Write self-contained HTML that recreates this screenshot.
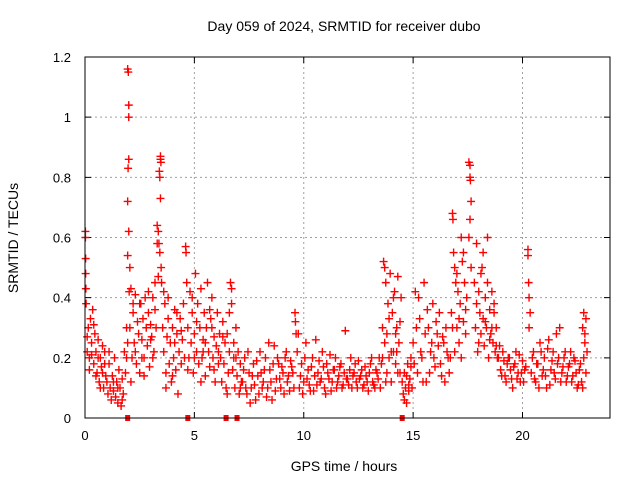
<!DOCTYPE html>
<html><head><meta charset="utf-8"><style>
body{margin:0;background:#fff;}
svg{display:block;font-family:"Liberation Sans",sans-serif;}
</style></head><body>
<svg id="chart" width="640" height="480" viewBox="0 0 640 480">
<rect width="640" height="480" fill="#fff"/>
<text x="344" y="31" text-anchor="middle" font-size="14">Day 059 of 2024, SRMTID for receiver dubo</text>
<text transform="translate(18,238) rotate(-90)" text-anchor="middle" font-size="14">SRMTID / TECUs</text>
<text x="344" y="471" text-anchor="middle" font-size="14">GPS time / hours</text>
<g id="grid"></g><g id="ticks"></g><g id="pts"></g>
<rect x="85" y="57" width="525" height="361" fill="none" stroke="#000" stroke-width="1"/>
</svg>
<script>
const xTicks=[0,5,10,15,20];
const yTicks=[0,0.2,0.4,0.6,0.8,1,1.2];
const yTickLabels=["0","0.2","0.4","0.6","0.8","1","1.2"];
const T=[0.02,0.02,0.03,0.03,0.04,0.05,0.1,0.15,0.2,0.25,0.3,0.35,0.4,0.45,0.5,0.55,0.6,0.65,0.7,0.75,0.8,0.85,0.9,0.95,0.1,0.2,0.3,0.4,0.5,0.6,0.7,0.8,0.9,
1.0,1.05,1.1,1.15,1.2,1.25,1.3,1.35,1.4,1.45,1.5,1.55,1.6,1.65,1.7,1.75,1.8,1.85,1.9,1.95,1.1,1.3,1.5,1.7,1.9,
1.95,1.98,2.0,2.0,2.0,1.97,1.95,2.0,1.95,2.05,2.02,
2.05,2.1,2.15,2.2,2.25,2.3,2.35,2.4,2.45,2.5,2.55,2.6,2.65,2.7,2.75,2.8,2.85,2.9,2.95,3.0,3.05,3.1,3.15,3.2,3.25,2.1,2.3,2.5,2.7,2.9,3.1,3.2,2.2,2.6,3.0,
3.45,3.45,3.47,3.4,3.42,3.45,3.3,3.35,3.38,3.42,3.48,3.5,3.3,3.35,
3.55,3.6,3.65,3.7,3.75,3.8,3.85,3.9,3.95,4.0,4.05,4.1,4.15,4.2,4.25,4.3,4.35,4.4,4.45,4.5,4.55,3.6,3.8,4.0,4.2,4.4,3.7,4.1,
4.6,4.62,4.65,4.7,4.75,4.8,4.85,4.9,4.95,5.0,5.05,5.1,5.15,5.2,5.25,5.3,5.35,5.4,5.45,5.5,5.55,5.6,5.65,5.7,5.75,5.8,5.85,5.9,5.95,6.0,6.05,6.1,6.15,4.7,4.9,5.1,5.3,5.5,5.7,5.9,6.1,5.0,5.4,5.8,
6.2,6.25,6.3,6.35,6.4,6.45,6.5,6.55,6.6,6.65,6.7,6.75,6.8,6.85,6.9,6.95,7.0,7.05,7.1,7.15,6.3,6.5,6.7,6.9,7.1,6.6,6.8,
7.2,7.3,7.4,7.5,7.6,7.7,7.8,7.9,8.0,8.1,8.2,8.3,8.4,8.5,8.6,8.7,8.8,8.9,9.0,9.1,9.2,9.3,9.4,7.25,7.35,7.45,7.55,7.65,7.75,7.85,7.95,8.05,8.15,8.25,8.35,8.45,8.55,8.65,8.75,8.85,8.95,9.05,9.15,9.25,9.35,9.45,9.6,9.62,9.65,
9.5,9.7,9.8,9.9,10.0,10.1,10.2,10.3,10.4,10.5,10.6,10.7,10.8,10.9,11.0,11.1,11.2,11.3,11.4,11.5,11.6,11.7,11.8,11.9,12.0,12.1,12.2,12.3,12.4,12.5,12.6,12.7,12.8,12.9,13.0,13.1,13.2,13.3,13.4,
9.55,9.75,9.85,9.95,10.05,10.15,10.25,10.35,10.45,10.55,10.65,10.75,10.85,10.95,11.05,11.15,11.25,11.35,11.45,11.55,11.65,11.75,11.85,11.95,12.05,12.15,12.25,12.35,12.45,12.55,12.65,12.75,12.85,12.95,13.05,13.15,13.25,13.35,13.45,
13.5,13.55,13.6,13.65,13.7,13.75,13.8,13.85,13.9,13.95,14.0,14.05,14.1,14.15,14.2,14.25,14.3,14.35,14.4,14.45,13.6,13.7,13.8,13.9,14.0,14.1,14.2,14.3,14.4,13.75,14.25,
14.5,14.55,14.6,14.65,14.7,14.75,14.8,14.85,14.9,14.95,14.6,14.7,14.8,14.9,
15.0,15.1,15.2,15.3,15.4,15.5,15.6,15.7,15.8,15.9,16.0,16.1,16.2,16.3,16.4,16.5,16.6,15.05,15.15,15.25,15.35,15.45,15.55,15.65,15.75,15.85,15.95,16.05,16.15,16.25,16.35,16.45,16.55,16.65,
16.7,16.75,16.8,16.82,16.85,16.9,16.95,17.0,17.05,17.1,17.15,17.2,17.25,17.3,17.35,17.4,17.45,16.8,16.9,17.0,17.1,17.2,17.3,17.4,
17.55,17.6,17.6,17.62,17.65,17.6,17.55,17.65,
17.8,17.85,17.9,17.95,18.0,18.05,18.1,18.15,18.2,18.25,18.3,18.35,18.4,18.45,18.5,18.55,18.6,18.65,18.7,18.75,18.8,18.85,17.9,18.0,18.1,18.2,18.3,18.4,18.5,18.6,18.7,18.8,
18.9,19.0,19.1,19.2,19.3,19.4,19.5,19.6,19.7,19.8,19.9,20.0,20.1,18.95,19.05,19.15,19.25,19.35,19.45,19.55,19.65,19.75,19.85,19.95,20.05,20.15,
20.25,20.25,20.28,20.3,20.35,20.3,
20.4,20.5,20.6,20.7,20.8,20.9,21.0,21.1,21.2,21.3,21.4,21.5,21.6,21.7,21.8,21.9,22.0,22.1,22.2,22.3,22.4,22.5,22.6,20.45,20.55,20.65,20.75,20.85,20.95,21.05,21.15,21.25,21.35,21.45,21.55,21.65,21.75,21.85,21.95,22.05,22.15,22.25,22.35,22.45,22.55,22.65,
22.7,22.75,22.8,22.85,22.9,22.95,22.8,22.9,22.75,22.85];
const V=[0.62,0.6,0.53,0.48,0.43,0.38,0.22,0.3,0.2,0.33,0.25,0.36,0.18,0.28,0.22,0.15,0.26,0.12,0.2,0.17,0.24,0.1,0.18,0.14,0.27,0.16,0.21,0.31,0.14,0.2,0.1,0.15,0.22,
0.12,0.08,0.18,0.1,0.06,0.14,0.09,0.2,0.07,0.12,0.05,0.16,0.1,0.04,0.13,0.08,0.22,0.15,0.3,0.25,0.22,0.12,0.1,0.06,0.2,
1.16,1.15,1.04,1.0,0.86,0.83,0.72,0.62,0.54,0.5,0.42,
0.3,0.43,0.2,0.35,0.25,0.41,0.18,0.32,0.28,0.15,0.38,0.26,0.33,0.2,0.4,0.3,0.24,0.35,0.17,0.31,0.27,0.4,0.22,0.36,0.3,0.12,0.22,0.38,0.14,0.42,0.2,0.45,0.38,0.2,0.26,
0.87,0.86,0.85,0.82,0.8,0.73,0.64,0.62,0.58,0.55,0.5,0.45,0.58,0.47,
0.3,0.22,0.38,0.15,0.27,0.33,0.18,0.25,0.12,0.3,0.2,0.36,0.16,0.28,0.08,0.22,0.33,0.18,0.26,0.38,0.2,0.42,0.4,0.14,0.35,0.29,0.1,0.25,
0.57,0.55,0.45,0.3,0.2,0.42,0.25,0.35,0.15,0.28,0.48,0.22,0.38,0.18,0.3,0.43,0.2,0.26,0.35,0.14,0.3,0.45,0.22,0.17,0.33,0.4,0.2,0.27,0.12,0.24,0.35,0.18,0.28,0.16,0.4,0.32,0.12,0.25,0.36,0.16,0.22,0.2,0.22,0.3,
0.2,0.12,0.32,0.18,0.25,0.1,0.28,0.15,0.22,0.45,0.38,0.16,0.2,0.1,0.3,0.14,0.22,0.08,0.18,0.12,0.27,0.08,0.43,0.2,0.1,0.35,0.25,
0.12,0.2,0.08,0.15,0.1,0.18,0.06,0.14,0.22,0.1,0.16,0.07,0.25,0.12,0.18,0.09,0.2,0.13,0.17,0.08,0.22,0.14,0.19,0.16,0.1,0.22,0.05,0.14,0.11,0.19,0.08,0.15,0.12,0.2,0.1,0.16,0.06,0.24,0.13,0.18,0.1,0.15,0.2,0.12,0.09,0.17,0.35,0.32,0.28,
0.15,0.22,0.1,0.18,0.12,0.25,0.16,0.09,0.2,0.14,0.11,0.19,0.13,0.17,0.08,0.15,0.21,0.12,0.16,0.1,0.14,0.18,0.11,0.29,0.13,0.16,0.1,0.15,0.12,0.19,0.14,0.1,0.17,0.12,0.15,0.2,0.11,0.16,0.13,
0.1,0.28,0.14,0.08,0.2,0.13,0.11,0.17,0.09,0.26,0.15,0.12,0.22,0.1,0.18,0.13,0.09,0.16,0.2,0.12,0.17,0.1,0.15,0.13,0.11,0.2,0.14,0.18,0.1,0.13,0.16,0.11,0.14,0.09,0.18,0.12,0.1,0.15,0.2,
0.1,0.18,0.3,0.52,0.25,0.45,0.15,0.38,0.2,0.48,0.12,0.35,0.22,0.42,0.18,0.3,0.47,0.25,0.15,0.4,0.2,0.5,0.28,0.33,0.22,0.4,0.28,0.15,0.32,0.12,0.22,
0.12,0.08,0.15,0.1,0.05,0.18,0.09,0.13,0.2,0.1,0.06,0.14,0.11,0.17,
0.25,0.42,0.15,0.33,0.2,0.45,0.12,0.3,0.22,0.38,0.17,0.28,0.35,0.14,0.25,0.3,0.2,0.18,0.3,0.4,0.22,0.12,0.28,0.36,0.15,0.25,0.2,0.32,0.24,0.18,0.27,0.12,0.22,0.15,
0.2,0.35,0.68,0.66,0.55,0.5,0.45,0.3,0.42,0.25,0.38,0.6,0.52,0.32,0.45,0.28,0.4,0.3,0.22,0.48,0.33,0.2,0.55,0.36,
0.85,0.84,0.8,0.79,0.72,0.66,0.6,0.5,
0.45,0.3,0.38,0.22,0.42,0.35,0.28,0.5,0.33,0.24,0.4,0.3,0.45,0.2,0.36,0.28,0.42,0.25,0.35,0.22,0.3,0.2,0.58,0.25,0.48,0.55,0.32,0.6,0.26,0.3,0.38,0.24,
0.2,0.16,0.22,0.14,0.18,0.2,0.13,0.17,0.22,0.15,0.12,0.19,0.16,0.24,0.14,0.19,0.12,0.2,0.16,0.1,0.18,0.13,0.21,0.15,0.12,0.17,
0.56,0.54,0.45,0.4,0.35,0.3,
0.15,0.22,0.12,0.18,0.25,0.14,0.2,0.1,0.26,0.16,0.22,0.13,0.18,0.3,0.15,0.2,0.12,0.17,0.22,0.14,0.19,0.1,0.16,0.2,0.13,0.18,0.1,0.22,0.16,0.14,0.23,0.11,0.19,0.15,0.28,0.2,0.12,0.17,0.22,0.14,0.18,0.12,0.2,0.15,0.11,0.18,
0.12,0.1,0.35,0.28,0.33,0.22,0.2,0.15,0.3,0.25];
const zeroT=[1.95,4.7,6.45,6.95,14.5];

const X0=85,X1=610,Y0=418,Y1=57,XMAX=24,YMAX=1.2;
function sx(t){return X0+(X1-X0)*t/XMAX;}
function sy(v){return Y0-(Y0-Y1)*v/YMAX;}
const NS="http://www.w3.org/2000/svg";
function mk(tag,attrs,parent){const e=document.createElementNS(NS,tag);for(const k in attrs)e.setAttribute(k,attrs[k]);parent.appendChild(e);return e;}
const grid=document.getElementById('grid'),ticks=document.getElementById('ticks'),pts=document.getElementById('pts');
xTicks.forEach(t=>{const x=sx(t);
 if(t>0){const g=mk('line',{x1:x,x2:x,y1:Y1,y2:Y0,stroke:'#a0a0a0','stroke-dasharray':'2,3'},grid);
 
 }
 const tk=mk('path',{d:`M${x},${Y0}v-6M${x},${Y1}v6`,stroke:'#000'},ticks);
 
 
 const l=mk('text',{x:x,y:Y0+22,'text-anchor':'middle','font-size':13},ticks);l.textContent=String(t);
 
 
});
yTicks.forEach((v,i)=>{const y=sy(v);
 if(v>0&&v<YMAX){const g=mk('line',{x1:X0,x2:X1,y1:y,y2:y,stroke:'#a0a0a0','stroke-dasharray':'2,3'},grid);
 
 }
 const tk=mk('path',{d:`M${X0},${y}h6M${X1},${y}h-6`,stroke:'#000'},ticks);
 
 
 const l=mk('text',{x:X0-14,y:y+5,'text-anchor':'end','font-size':13},ticks);l.textContent=yTickLabels[i];
 
 
});
let d='';
for(let i=0;i<T.length;i++){const x=sx(T[i]),y=sy(V[i]);d+=`M${x-4},${y}h8M${x},${y-4}v8`;}
const p=mk('path',{d:d,stroke:'#ff0000','stroke-width':1.4,fill:'none'},pts);


zeroT.forEach(t=>{const r=mk('rect',{x:sx(t)-2.5,y:sy(0)-3,width:5,height:6,fill:'#ff0000'},pts);
 
 });
</script>
</body></html>
